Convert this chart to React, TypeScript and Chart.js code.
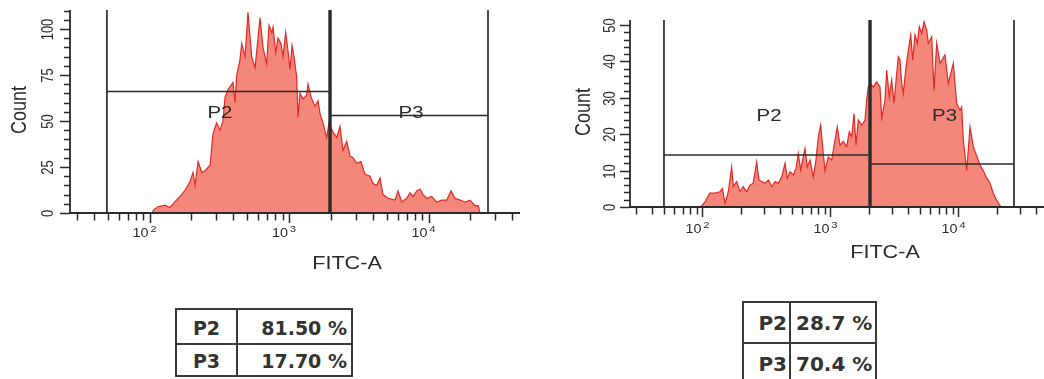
import React, { useEffect, useRef } from "react";
import { Chart, registerables } from "chart.js";

Chart.register(...registerables);

// ---------- data ----------
// Left sample: FITC-A intensity (bin position) and event count
const LEFT_FITC = [104, 108, 115, 129, 140, 152, 170, 180, 195, 205, 212, 223, 237, 250, 272, 285, 303, 320, 336, 348, 365, 397, 410, 422, 445, 458, 484, 508, 540, 571, 620, 651, 692, 719, 752, 768, 803, 834, 876, 906, 947, 984, 1017, 1051, 1086, 1135, 1160, 1199, 1260, 1339, 1368, 1438, 1536, 1614, 1668, 1753, 1863, 1935, 2067, 2197, 2320, 2438, 2591, 2737, 2876, 3056, 3281, 3506, 3807, 4001, 4254, 4491, 4719, 5125, 5755, 6046, 6426, 6979, 7369, 7743, 8230, 8691, 9133, 9707, 10540, 11450, 12430, 13510, 14500, 15490, 16820, 18270, 19840, 21540, 22750, 23390];
const LEFT_COUNT = [0, 2, 3.4, 4.3, 3, 6, 10, 12.5, 17, 22, 15, 28, 22, 23, 26, 43, 49, 45, 50, 63, 67, 71, 60, 75, 83, 92, 85, 109, 85, 79, 106, 90, 81, 102, 98, 101, 87, 95, 92, 85, 98, 88, 78, 91, 85, 74, 52, 65, 62, 64, 70, 63, 58, 61, 54, 49, 41, 49, 44, 41, 47, 34, 39, 31, 30, 27, 28, 21, 20, 16, 15, 19, 10, 8, 7, 12, 6, 8, 11, 9, 12, 13, 10, 8, 9, 6, 7, 7, 12, 8, 7, 6, 7, 4, 4, 0];
const LEFT_GATE_X = [49.5, 1968, 26700];
const LEFT_GATE_LEVEL = [66, 53];
const LEFT_PERCENT = ["81.50 %", "17.70 %"];

// Right sample
const RIGHT_FITC = [97, 105, 114, 125, 137, 143, 150, 159, 169, 174, 185, 196, 208, 221, 235, 249, 265, 276, 290, 308, 327, 347, 369, 391, 416, 441, 460, 483, 512, 538, 560, 585, 613, 632, 659, 692, 734, 770, 803, 838, 878, 906, 961, 1022, 1084, 1130, 1186, 1259, 1338, 1402, 1464, 1526, 1582, 1649, 1753, 1860, 1918, 1974, 2036, 2160, 2296, 2436, 2512, 2666, 2748, 2880, 3007, 3134, 3290, 3386, 3491, 3600, 3705, 3890, 4054, 4233, 4388, 4573, 4766, 4940, 5159, 5377, 5644, 5809, 6174, 6436, 6756, 7171, 7843, 8322, 9108, 9680, 10270, 10590, 10900, 11590, 12300, 13050, 13880, 14720, 15620, 16610, 17620, 18710, 19880, 21480];
const RIGHT_COUNT = [0, 1.5, 3.8, 3.8, 4.2, 5.1, 1.0, 4.2, 11, 5.6, 7, 4.2, 5.6, 4.2, 6, 6.5, 12.4, 7.4, 7, 6.5, 7.4, 5.6, 7, 6.5, 8.3, 12, 7.9, 9.7, 8.8, 10.6, 14.7, 10.2, 13.8, 16.1, 11, 12.9, 8.3, 12.9, 19.3, 22.5, 14.7, 10, 13.8, 12.9, 18.4, 22, 17, 18, 16.6, 20.7, 19.3, 25.7, 17, 23.9, 22.5, 23.9, 29.4, 33, 34, 33, 34.4, 33, 24.4, 29.4, 37.6, 30.3, 34.9, 28.5, 36.7, 41.3, 40.4, 34, 31.2, 38.5, 43, 47.3, 40.4, 47.3, 45, 49.5, 47.7, 50.9, 48.6, 45, 46.8, 32, 45, 39.5, 41.8, 34, 39.5, 28.5, 26.6, 27.5, 18.4, 10, 22, 16.6, 14, 11.5, 10, 8, 6.5, 3.8, 1.8, 0];
const RIGHT_GATE_X = [50, 2036, 27140];
const RIGHT_GATE_LEVEL = [14.3, 11.8];
const RIGHT_PERCENT = ["28.7 %", "70.4 %"];

// Axis text
const X_DECADES = [100, 1000, 10000];
const X_DECADE_BASE = "10";
const X_DECADE_EXP = ["2", "3", "4"];
const GATE_NAMES = ["P2", "P3"];
const X_TITLE = "FITC-A";
const Y_TITLE = "Count";

// ---------- styling ----------
const FONT = "'Liberation Sans', Arial, sans-serif";
const INK = "#2b2b2b";
const FILL = "#f4877a";
const EDGE = "#e02a26";
const SX = 1.2; // horizontal stretch of the scanned figure's lettering

type Panel = {
  left: number; width: number; height: number;
  pad: { left: number; top: number; right: number; bottom: number };
  xMin: number; xMax: number; yMax: number; yMinor: number; yMajor: number;
  fitc: number[]; count: number[]; gateX: number[]; gateLevel: number[];
  labelAt: number[][]; yLabelOff: number; xLabelDy: number;
  xTitle: { x: number; y: number }; yTitle: { x: number; y: number };
};

const PANELS: Panel[] = [
  {
    left: 0, width: 520, height: 280,
    pad: { left: 70, top: 10, right: 0, bottom: 67 },
    xMin: 26.92, xMax: 45280, yMax: 110.3, yMinor: 5, yMajor: 25,
    fitc: LEFT_FITC, count: LEFT_COUNT, gateX: LEFT_GATE_X, gateLevel: LEFT_GATE_LEVEL,
    labelAt: [[320, 54], [7494, 54]], yLabelOff: 21, xLabelDy: 24,
    xTitle: { x: 347, y: 269 }, yTitle: { x: 20, y: 110 },
  },
  {
    left: 520, width: 524, height: 280,
    pad: { left: 110, top: 20, right: 0, bottom: 73 },
    xMin: 27.14, xMax: 46560, yMax: 51.4, yMinor: 2, yMajor: 10,
    fitc: RIGHT_FITC, count: RIGHT_COUNT, gateX: RIGHT_GATE_X, gateLevel: RIGHT_GATE_LEVEL,
    labelAt: [[331, 25], [7776, 25]], yLabelOff: 19, xLabelDy: 26,
    xTitle: { x: 365, y: 258 }, yTitle: { x: 64, y: 112 },
  },
];

function stretchText(
  ctx: CanvasRenderingContext2D, text: string, x: number, y: number,
  size: number, align: CanvasTextAlign, baseline: CanvasTextBaseline, rotate = false
) {
  ctx.save();
  ctx.translate(x, y);
  ctx.scale(SX, 1);
  if (rotate) ctx.rotate(-Math.PI / 2);
  ctx.font = `${size}px ${FONT}`;
  ctx.textAlign = align;
  ctx.textBaseline = baseline;
  ctx.fillText(text, 0, 0);
  ctx.restore();
}

const facsAxesPlugin = {
  id: "facsAxes",
  afterDraw(chart: any, _args: any, opts: any) {
    const p: Panel = opts.panel;
    const { ctx, chartArea: a } = chart;
    const xs = chart.scales.x;
    const ys = chart.scales.y;
    ctx.save();
    ctx.strokeStyle = INK;
    ctx.fillStyle = INK;
    ctx.lineCap = "butt";

    // axis lines
    ctx.lineWidth = 1.8;
    ctx.beginPath();
    ctx.moveTo(a.left, a.top);
    ctx.lineTo(a.left, a.bottom);
    ctx.lineTo(a.right, a.bottom);
    ctx.stroke();

    // x ticks (log decades with 2..9 minors)
    ctx.lineWidth = 1.5;
    for (let e = 1; e <= 4; e++) {
      for (let m = 1; m <= 9; m++) {
        const v = m * Math.pow(10, e);
        if (v < xs.min || v > xs.max) continue;
        const px = Math.round(xs.getPixelForValue(v)) + 0.5;
        const len = m === 1 ? 10 : 7.5;
        ctx.beginPath();
        ctx.moveTo(px, a.bottom);
        ctx.lineTo(px, a.bottom + len);
        ctx.stroke();
      }
    }
    X_DECADES.forEach((v, i) => {
      const px = xs.getPixelForValue(v);
      stretchText(ctx, X_DECADE_BASE, px - 1, a.bottom + p.xLabelDy, 12, "right", "alphabetic");
      stretchText(ctx, X_DECADE_EXP[i], px + 1, a.bottom + p.xLabelDy - 5, 9, "left", "alphabetic");
    });

    // y ticks
    const nMinor = Math.floor(p.yMax / p.yMinor + 1e-6);
    const every = Math.round(p.yMajor / p.yMinor);
    for (let n = 0; n <= nMinor; n++) {
      const v = n * p.yMinor;
      const py = Math.round(ys.getPixelForValue(v)) + 0.5;
      const major = n % every === 0;
      ctx.beginPath();
      ctx.moveTo(a.left, py);
      ctx.lineTo(a.left - (major ? 10 : 6), py);
      ctx.stroke();
      if (major) {
        stretchText(ctx, String(v), a.left - p.yLabelOff, py, 13, "center", "middle", true);
      }
    }

    // titles
    stretchText(ctx, X_TITLE, p.xTitle.x, p.xTitle.y, 18, "center", "alphabetic");
    stretchText(ctx, Y_TITLE, p.yTitle.x, p.yTitle.y, 18, "center", "middle", true);

    // gate names
    GATE_NAMES.forEach((name, i) => {
      const [vx, vy] = p.labelAt[i];
      stretchText(ctx, name, xs.getPixelForValue(vx), ys.getPixelForValue(vy), 17, "center", "middle");
    });
    ctx.restore();
  },
};

function FacsPanel({ panel }: { panel: Panel }) {
  const ref = useRef<HTMLCanvasElement>(null);
  useEffect(() => {
    const p = panel;
    const datasets: any[] = [
      {
        data: p.fitc.map((x, i) => ({ x, y: p.count[i] })),
        borderColor: EDGE,
        backgroundColor: FILL,
        borderWidth: 1.2,
        fill: "origin",
        pointRadius: 0,
        tension: 0,
        order: 5,
      },
      ...p.gateX.map((g, i) => ({
        data: [{ x: g, y: 0 }, { x: g, y: p.yMax }],
        borderColor: INK,
        borderWidth: i === 1 ? 3.4 : 1.7,
        pointRadius: 0,
        fill: false,
        order: 0,
      })),
      ...p.gateLevel.map((lvl, i) => ({
        data: [{ x: p.gateX[i], y: lvl }, { x: p.gateX[i + 1], y: lvl }],
        borderColor: INK,
        borderWidth: 1.6,
        pointRadius: 0,
        fill: false,
        order: 1,
      })),
    ];
    const chart = new Chart(ref.current as HTMLCanvasElement, {
      type: "line",
      data: { datasets },
      options: {
        animation: false,
        responsive: false,
        maintainAspectRatio: false,
        events: [],
        layout: { padding: p.pad },
        scales: {
          x: { type: "logarithmic", min: p.xMin, max: p.xMax, display: false },
          y: { type: "linear", min: 0, max: p.yMax, display: false },
        },
        plugins: {
          legend: { display: false },
          tooltip: { enabled: false },
          facsAxes: { panel: p },
        } as any,
      },
      plugins: [facsAxesPlugin],
    } as any);
    return () => chart.destroy();
  }, [panel]);
  return (
    <canvas
      ref={ref}
      width={panel.width}
      height={panel.height}
      style={{ position: "absolute", left: panel.left, top: 0, width: panel.width, height: panel.height }}
    />
  );
}

const cellBase: React.CSSProperties = {
  boxSizing: "border-box",
  display: "flex",
  alignItems: "center",
  fontFamily: "'DejaVu Sans', sans-serif",
  fontWeight: "bold",
  color: "#333",
  whiteSpace: "nowrap",
  overflow: "hidden",
};

function PercentTable(props: {
  left: number; top: number; width: number; height: number; col1: number; row1: number;
  values: string[]; fontSize: number; nameAlign: "center" | "flex-end"; valueAlign: "flex-start" | "flex-end";
  namePad: number; valuePad: number; textShift: number;
}) {
  const { left, top, width, height, col1, row1, values, fontSize } = props;
  return (
    <div
      style={{
        position: "absolute", left, top, width, height, boxSizing: "border-box",
        border: "2px solid #3a3a3a", display: "grid",
        gridTemplateColumns: `${col1}px 1fr`, gridTemplateRows: `${row1}px 1fr`,
        background: "#fff",
      }}
    >
      {GATE_NAMES.map((name, i) => (
        <React.Fragment key={name}>
          <div
            style={{
              ...cellBase, fontSize, justifyContent: props.nameAlign,
              paddingRight: props.namePad, paddingTop: props.textShift,
              borderRight: "2px solid #3a3a3a",
              borderBottom: i === 0 ? "2px solid #3a3a3a" : "none",
            }}
          >
            {name}
          </div>
          <div
            style={{
              ...cellBase, fontSize, justifyContent: props.valueAlign,
              paddingLeft: props.valueAlign === "flex-start" ? props.valuePad : 0,
              paddingRight: props.valueAlign === "flex-end" ? props.valuePad : 0,
              paddingTop: props.textShift,
              borderBottom: i === 0 ? "2px solid #3a3a3a" : "none",
            }}
          >
            {values[i]}
          </div>
        </React.Fragment>
      ))}
    </div>
  );
}

export default function App() {
  return (
    <div
      style={{
        position: "absolute", left: 0, top: 0, width: 1044, height: 379,
        overflow: "hidden", background: "#fff",
      }}
    >
      {PANELS.map((p, i) => (
        <FacsPanel key={i} panel={p} />
      ))}
      <PercentTable
        left={175} top={308} width={178} height={69} col1={61} row1={35}
        values={LEFT_PERCENT} fontSize={19} nameAlign="center" valueAlign="flex-end"
        namePad={0} valuePad={4} textShift={2}
      />
      <PercentTable
        left={742} top={301} width={135} height={84} col1={47} row1={41}
        values={RIGHT_PERCENT} fontSize={20} nameAlign="flex-end" valueAlign="flex-start"
        namePad={2} valuePad={5} textShift={0}
      />
    </div>
  );
}
